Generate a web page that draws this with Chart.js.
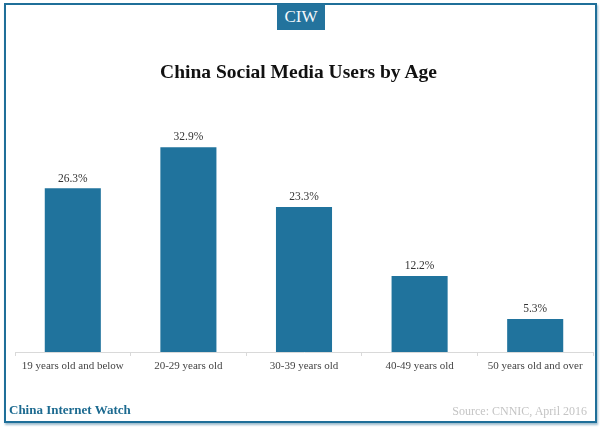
<!DOCTYPE html>
<html>
<head>
<meta charset="utf-8">
<script src="https://cdn.jsdelivr.net/npm/chart.js@4"></script>
<style>
html,body{margin:0;padding:0;background:#fff;width:600px;height:427px;overflow:hidden}
#wrap{position:relative;width:600px;height:427px;font-family:"Liberation Serif",serif}
canvas{position:absolute;left:0;top:0}
#frame{position:absolute;left:4px;top:3px;width:589px;height:416px;border:2px solid #1f6f99;box-shadow:1px 2px 2px #9dbccd;box-sizing:content-box}
#badge{position:absolute;left:277px;top:4px;width:48px;height:26px;background:#23739d;color:#f4f8fb;font-size:17px;line-height:26px;text-align:center}
#title{position:absolute;left:0;width:597px;top:60px;text-align:center;font-size:19.5px;font-weight:bold;color:#111;line-height:24px;white-space:nowrap}
#brand{position:absolute;left:9px;top:401px;font-size:13px;font-weight:bold;color:#1c6a90;line-height:17px;white-space:nowrap}
#source{position:absolute;right:13px;top:403px;font-size:12px;color:#c4c4c4;line-height:16px;white-space:nowrap}
</style>
</head>
<body>
<div id="wrap">
<canvas id="c" width="600" height="427"></canvas>
<div id="frame"></div>
<div id="badge">CIW</div>
<div id="title">China Social Media Users by Age</div>
<div id="brand">China Internet Watch</div>
<div id="source">Source: CNNIC, April 2016</div>
</div>
<script>
const categories = ["19 years old and below","20-29 years old","30-39 years old","40-49 years old","50 years old and over"];
const shares = [26.3,32.9,23.3,12.2,5.3];
const FONT = "'Liberation Serif', serif";
const valueLabels = {
  id:'valueLabels',
  afterDatasetsDraw(chart){
    const {ctx} = chart;
    const meta = chart.getDatasetMeta(0);
    ctx.save();
    ctx.font = "11.5px "+FONT;
    ctx.fillStyle = "#333";
    ctx.textAlign = "center";
    ctx.textBaseline = "bottom";
    meta.data.forEach((bar,i)=>ctx.fillText(shares[i].toFixed(1)+"%",bar.x,bar.y-4));
    ctx.restore();
  }
};
new Chart(document.getElementById('c'),{
  type:'bar',
  data:{labels:categories,datasets:[{data:shares,backgroundColor:'#20739d',barPercentage:0.485,categoryPercentage:1}]},
  options:{
    responsive:false,animation:false,
    layout:{padding:{left:15,right:7,top:103,bottom:0}},
    plugins:{legend:{display:false},tooltip:{enabled:false},title:{display:false}},
    scales:{
      y:{display:false,min:0,max:40},
      x:{
        afterFit(s){s.height=75;},
        grid:{drawOnChartArea:false,color:'#d9d9d9',tickLength:4,offset:true},
        border:{color:'#d9d9d9'},
        ticks:{color:'#444',font:{family:FONT,size:11},maxRotation:0,autoSkip:false,padding:4}
      }
    }
  },
  plugins:[valueLabels]
});
</script>
</body>
</html>
